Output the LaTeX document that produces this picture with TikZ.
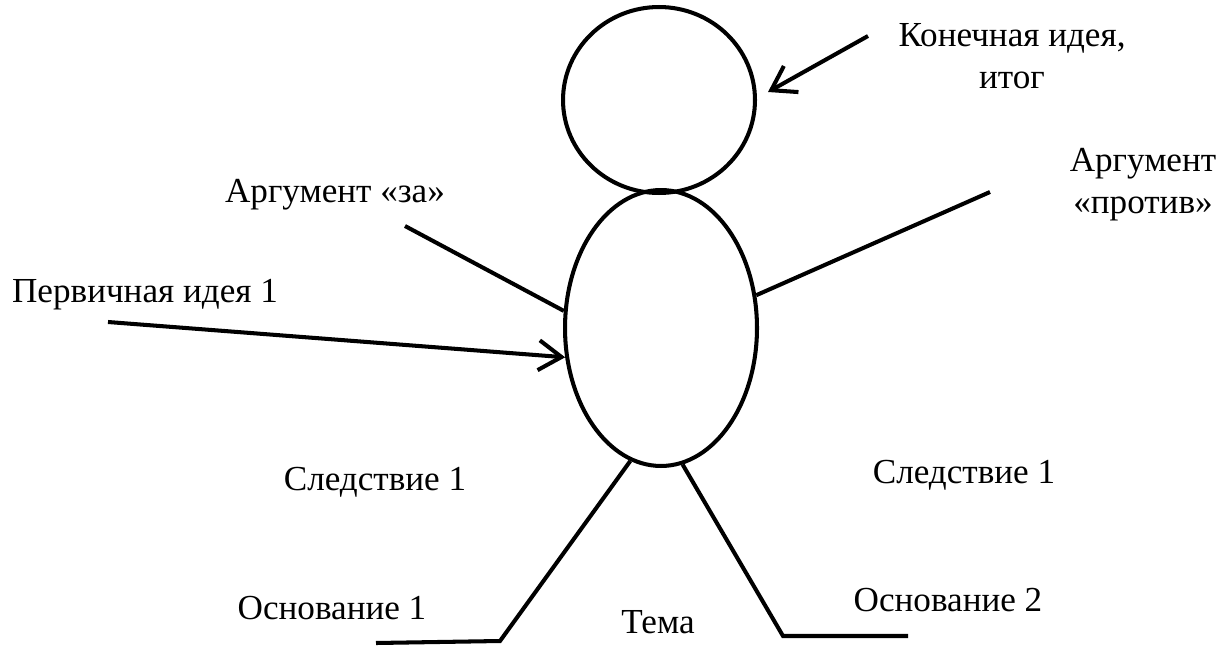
\documentclass[tikz,border=0pt]{standalone}
\usepackage{fontspec}
\setmainfont{Liberation Serif}
\usetikzlibrary{arrows.meta,shapes.geometric}

\begin{document}
\begin{tikzpicture}[x=0.02cm, y=-0.02cm,
    line width=2.3pt,
    lbl/.style={font=\fontsize{20}{24}\selectfont, align=center, inner sep=0pt},
    part/.style={draw, ellipse, inner sep=0pt},
    pointer/.style={-{Straight Barb[length=13pt,width=17pt]}}]
\useasboundingbox (0,0) rectangle (1222,652);

% head and body
\node [part, minimum width=3.84cm, minimum height=3.72cm] (head) at (659,100) {};
\node [part, minimum width=3.84cm, minimum height=5.52cm] (body) at (661,328) {};

% labels
\node [lbl] (final) at (1012,56) {Конечная идея,\\итог};
\node [lbl] (pro) at (335,195) {Аргумент «за»};
\node [lbl] (contra) at (1143,185) {Аргумент\\«против»};
\node [lbl] (idea) at (145,295) {Первичная идея 1};
\node [lbl] (consL) at (375,482) {Следствие 1};
\node [lbl] (consR) at (964,475) {Следствие 1};
\node [lbl] (baseL) at (332,608) {Основание 1};
\node [lbl] (topic) at (658,622) {Тема};
\node [lbl] (baseR) at (948,600) {Основание 2};

% free ends
\coordinate (finTail) at (868,36);
\coordinate (finTip) at (768,92);
\coordinate (ideaTail) at (108,322);
\coordinate (proTail) at (405,226);
\coordinate (contraTail) at (990,192);
\coordinate (kneeL) at (500,641);
\coordinate (toeL) at (376,643);
\coordinate (kneeR) at (783,636);
\coordinate (toeR) at (908,636);

% arrows and limbs
\draw [pointer] (finTail) -- (finTip);
\draw [pointer] (ideaTail) -- (body.197);
\draw (proTail) -- (body.170);
\draw (contraTail) -- (body.19);
\draw (body.257) -- (kneeL) -- (toeL);
\draw (body.279) -- (kneeR) -- (toeR);
\end{tikzpicture}
\end{document}
